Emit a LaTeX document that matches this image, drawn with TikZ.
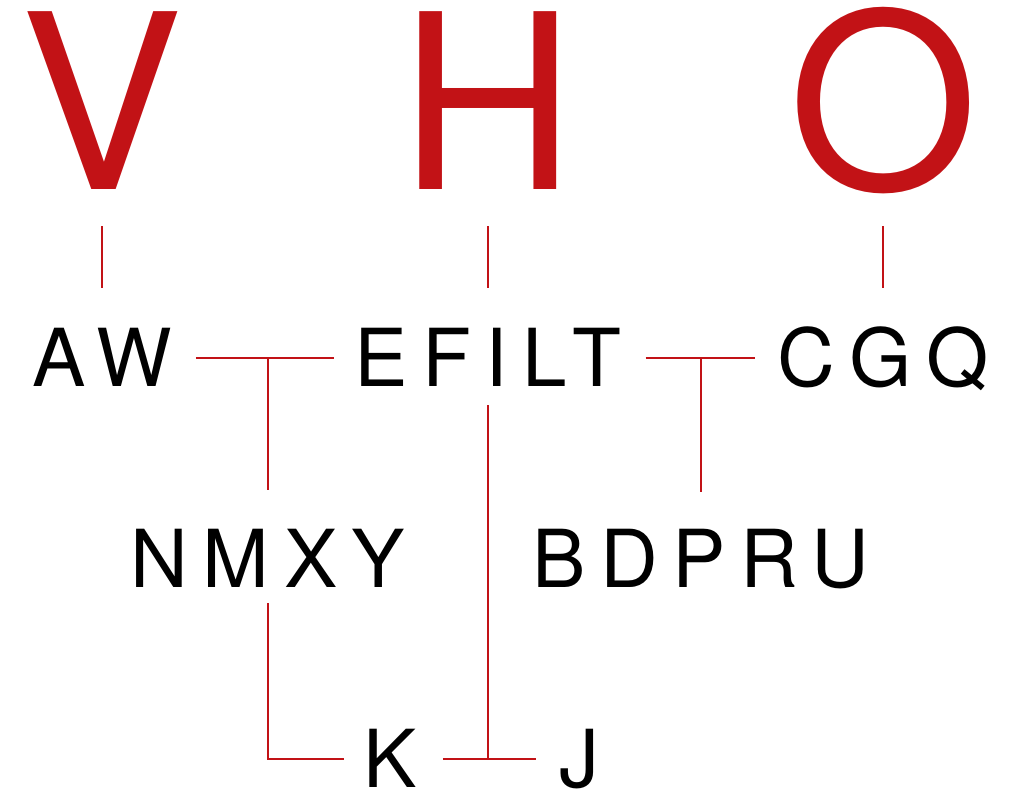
\documentclass[tikz,border=0pt]{standalone}
\usepackage{fontspec}
\setmainfont{TeX Gyre Heros}
\newfontfamily\spacedfont[LetterSpace=18]{TeX Gyre Heros}
\usepackage{tikz}
\usetikzlibrary{calc}
\definecolor{vhored}{RGB}{194, 18, 22}

\begin{document}
\begin{tikzpicture}[x=1pt, y=-1pt,
  big/.style={vhored, inner sep=0, anchor=base, text depth=0pt,
    font=\fontsize{244}{244}\selectfont},
  word/.style={inner sep=0, anchor=base, text height=57pt, text depth=0pt,
    font=\spacedfont\fontsize{80}{80}\selectfont},
  link/.style={vhored, line width=2pt}]

  \pgfmathsetmacro{\xv}{102};
  \pgfmathsetmacro{\xh}{488};
  \pgfmathsetmacro{\xo}{883};

  \useasboundingbox (0, 0) rectangle (1020, 791);

  % the three top letters
  \node[big] (V) at (\xv, 190) {V};
  \node[big] (H) at (\xh, 190) {H};
  \node[big] (O) at (\xo, 190) {O};

  \node[word] (AW) at (\xv, 387) {AW};
  \node[word] (EFILT) at (\xh, 387) {EFILT};
  \node[word] (CGQ) at (\xo, 387) {CGQ};

  \node[word] (NMXY) at (268, 587) {NMXY};
  \node[word] (BDPRU) at (701, 587) {BDPRU};

  \node[word] (K) at (390, 787) {K};
  \node[word] (J) at (579, 787) {J};

  \draw[link, shorten <=36pt, shorten >=42pt] (V.south) -- (AW.north);
  \draw[link, shorten <=36pt, shorten >=42pt] (H.south) -- (EFILT.north);
  \draw[link, shorten <=36pt, shorten >=42pt] (O.south) -- (CGQ.north);

  \draw[link, shorten <=24pt, shorten >=20pt] (AW.east) -- (EFILT.west);
  \coordinate (j1) at (NMXY.north |- AW.east);
  \draw[link, shorten >=40pt] (j1) -- (NMXY.north);

  \draw[link, shorten <=24pt, shorten >=22pt] (EFILT.east) -- (CGQ.west);
  \coordinate (j2) at (BDPRU.north |- EFILT.east);
  \draw[link, shorten >=38pt] (j2) -- (BDPRU.north);

  \coordinate (k1) at (NMXY.south |- K.west);
  \draw[link, shorten <=16pt, shorten >=19pt] (NMXY.south) -- (k1) -- (K.west);

  \coordinate (j3) at (EFILT.south |- K.east);
  \draw[link, shorten <=18pt] (EFILT.south) -- (j3);
  \draw[link, shorten <=26pt, shorten >=23pt] (K.east) -- (J.west);

\end{tikzpicture}
\end{document}
